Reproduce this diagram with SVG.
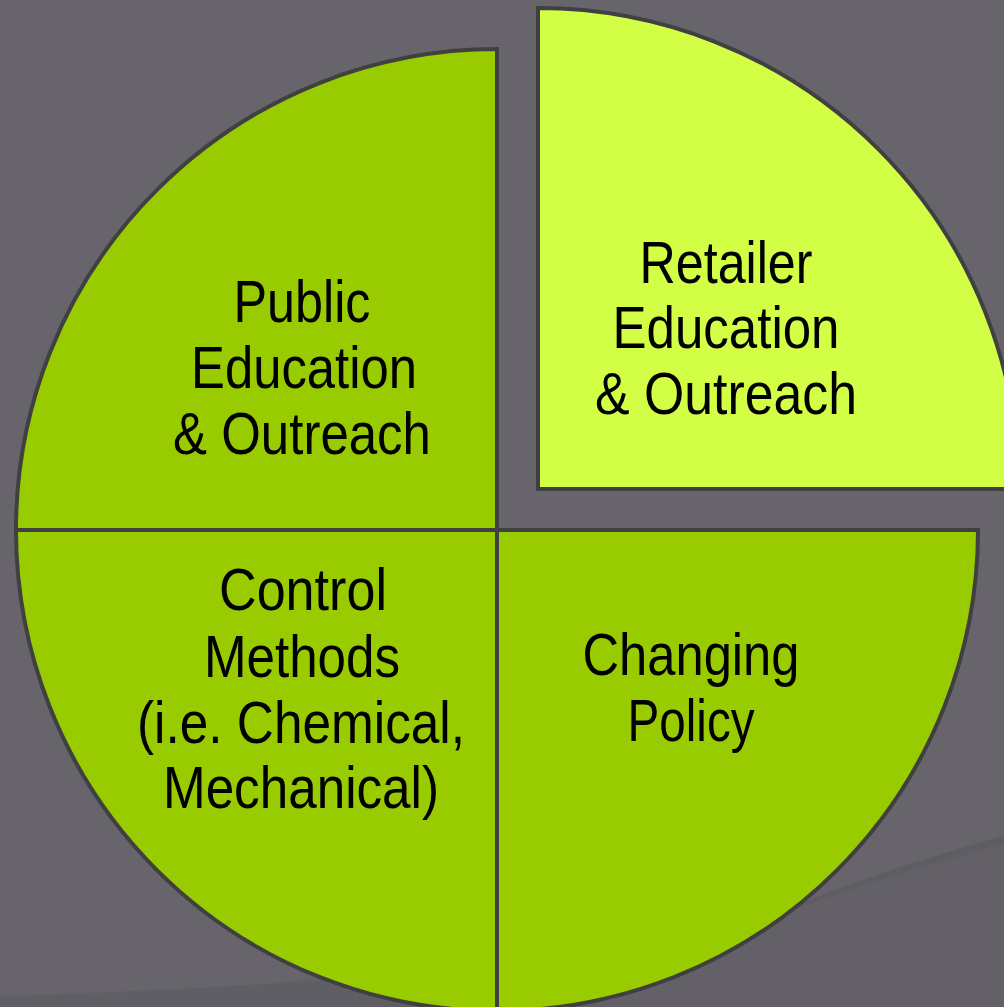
<svg xmlns="http://www.w3.org/2000/svg" width="1004" height="1007" viewBox="0 0 1004 1007">
  <defs>
    <style>
      .sec { stroke: #404040; stroke-width: 4; stroke-linejoin: miter; }
      .dark { fill: #99cc00; }
      .light { fill: #d2ff46; }
      .lbl { font-family: "Liberation Sans Narrow", "Liberation Sans", Arial, sans-serif; font-size: 60px; fill: #000000; text-anchor: middle; }
    </style>
  </defs>
  <rect x="0" y="0" width="1004" height="1007" fill="#67656b"/>
  <path d="M780,912 Q880,870 1004,836 L1004,1007 L0,1007 L0,1000 Q400,985 780,912 Z" fill="#636167"/>
  <path d="M780,912 Q880,870 1004,836 L1004,844 Q880,877 780,915 Z" fill="#5c5a60" opacity="0.5"/>
  <path d="M0,996 Q250,988 520,968 L520,1007 L0,1007 Z" fill="#5e5c62" opacity="0.6"/>

  <g id="public-education">
    <path class="sec dark" d="M16,530 A481,481 0 0 1 497,49 L497,530 Z"/>
    <text class="lbl"><tspan x="302" y="322" textLength="137" lengthAdjust="spacingAndGlyphs">Public</tspan><tspan x="304" y="388" textLength="226" lengthAdjust="spacingAndGlyphs">Education</tspan><tspan x="302" y="454" textLength="258" lengthAdjust="spacingAndGlyphs">&amp; Outreach</tspan></text>
  </g>
  <g id="retailer-education">
    <path class="sec light" d="M538,489 L538,8 A481,481 0 0 1 1019,489 Z"/>
    <text class="lbl"><tspan x="726" y="283" textLength="173" lengthAdjust="spacingAndGlyphs">Retailer</tspan><tspan x="726" y="348" textLength="227" lengthAdjust="spacingAndGlyphs">Education</tspan><tspan x="726" y="414" textLength="262" lengthAdjust="spacingAndGlyphs">&amp; Outreach</tspan></text>
  </g>
  <g id="control-methods">
    <path class="sec dark" d="M16,530 L497,530 L497,1011 A481,481 0 0 1 16,530 Z"/>
    <text class="lbl"><tspan x="303" y="610" textLength="168" lengthAdjust="spacingAndGlyphs">Control</tspan><tspan x="302" y="677" textLength="196" lengthAdjust="spacingAndGlyphs">Methods</tspan><tspan x="301" y="743" textLength="328" lengthAdjust="spacingAndGlyphs">(i.e. Chemical,</tspan><tspan x="301" y="808" textLength="276" lengthAdjust="spacingAndGlyphs">Mechanical)</tspan></text>
  </g>
  <g id="changing-policy">
    <path class="sec dark" d="M497,530 L978,530 A481,481 0 0 1 497,1011 Z"/>
    <text class="lbl"><tspan x="691" y="675" textLength="217" lengthAdjust="spacingAndGlyphs">Changing</tspan><tspan x="691" y="741" textLength="127" lengthAdjust="spacingAndGlyphs">Policy</tspan></text>
  </g>
  <g id="connectors"></g>
</svg>
